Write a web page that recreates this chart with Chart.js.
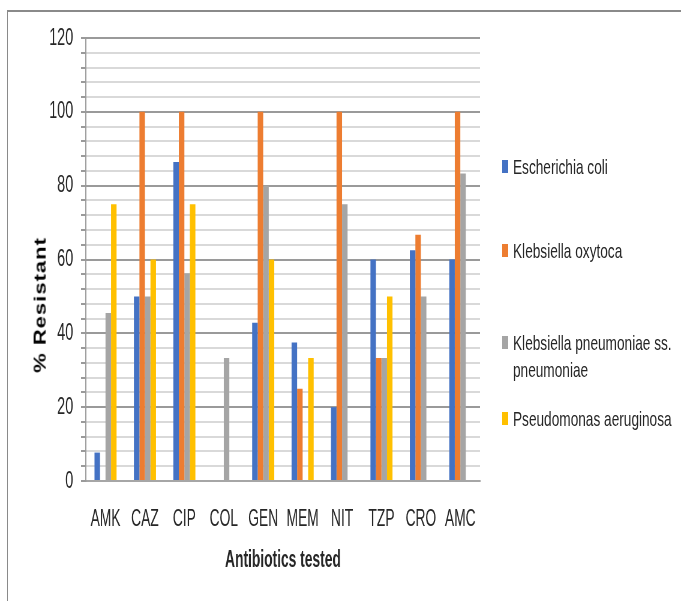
<!DOCTYPE html>
<html>
<head>
<meta charset="utf-8">
<script src="https://cdn.jsdelivr.net/npm/chart.js@4/dist/chart.umd.min.js"></script>
<style>
  html, body { margin: 0; padding: 0; background: #fff; overflow: hidden; width: 681px; height: 601px; }
  #wrap { position: relative; width: 681px; height: 601px; overflow: hidden; }
  #ftop { position: absolute; left: 7px; top: 10px; width: 674px; height: 2px; background: #8a8a8a; }
  #fleft { position: absolute; left: 7px; top: 10px; width: 1px; height: 591px; background: #8a8a8a; }
  #c { position: absolute; left: 0; top: 0; transform: scaleX(0.6); transform-origin: 0 0; }
  #ytitle { position: absolute; left: 41px; top: 305px; white-space: nowrap;
    font: bold 22px "Liberation Sans", Arial, sans-serif; letter-spacing: 1px; color: #000;
    transform: translate(-50%, -50%) rotate(-90deg) scale(1, 0.72); }
  #legend { position: absolute; left: 502px; top: 0; width: 179px; height: 601px; overflow: hidden; }
  .sw { position: absolute; left: 0; width: 6px; height: 13px; }
  .tx { position: absolute; left: 11px; white-space: nowrap; font: 21px "Liberation Sans", Arial, sans-serif; color: #262626;
        transform: scaleX(0.65); transform-origin: 0 50%; line-height: 26px; }
</style>
</head>
<body>
<div id="wrap">
  <div id="ftop"></div>
  <div id="fleft"></div>
  <canvas id="c" width="1135" height="601"></canvas>
  <div id="ytitle">% Resistant</div>
  <div id="legend"></div>
</div>
<script>
const categories = ['AMK','CAZ','CIP','COL','GEN','MEM','NIT','TZP','CRO','AMC'];
const seriesNames = ['Escherichia coli', 'Klebsiella oxytoca', 'Klebsiella pneumoniae ss. pneumoniae', 'Pseudomonas aeruginosa'];
const ecoli      = [7.7, 50, 86.4, 0, 42.9, 37.5, 20, 60, 62.5, 60];
const kOxytoca   = [0, 100, 100, 0, 100, 25, 100, 33.3, 66.7, 100];
const kPneumo    = [45.5, 50, 56.3, 33.3, 80, 0, 75, 33.3, 50, 83.3];
const pAerugin   = [75, 60, 75, 0, 60, 33.3, 0, 50, 0, 0];
const yTickValues = [0, 20, 40, 60, 80, 100, 120];
const colors = ['#4472C4', '#ED7D31', '#A5A5A5', '#FFC000'];

// The reference picture is horizontally condensed; the canvas is drawn wide and squeezed by SX.
const SX = 0.6;
const FONT = '"Liberation Sans", Arial, sans-serif';
const values = [ecoli, kOxytoca, kPneumo, pAerugin];
const datasets = values.map((d, i) => ({
  label: seriesNames[i],
  data: d,
  backgroundColor: colors[i],
  borderWidth: 0,
  categoryPercentage: 0.56,
  barPercentage: 1.0
}));

const chart = new Chart(document.getElementById('c'), {
  type: 'bar',
  data: { labels: categories, datasets },
  options: {
    responsive: false,
    animation: false,
    layout: { padding: { left: 0, right: Math.round(201 / SX), top: 38, bottom: 0 } },
    plugins: { legend: { display: false }, tooltip: { enabled: false } },
    scales: {
      x: {
        grid: { display: false, drawTicks: false },
        border: { display: true, color: '#a6a6a6', width: 2 },
        ticks: { color: '#262626', padding: 25, maxRotation: 0, minRotation: 0, autoSkip: false,
                 font: { family: FONT, size: 23 } },
        title: { display: true, text: 'Antibiotics tested', color: '#262626', padding: { top: 0, bottom: 27 },
                 font: { family: FONT, size: 23, weight: 'bold' } },
        afterFit: s => { s.height = 120; }
      },
      y: {
        min: 0, max: 120,
        grid: {
          color: ctx => (ctx.tick && yTickValues.includes(ctx.tick.value)) ? '#9a9a9a' : '#d9d9d9',
          lineWidth: 2,
          drawTicks: true, tickLength: 8, tickColor: '#9a9a9a'
        },
        border: { display: true, color: '#9a9a9a', width: 2 },
        ticks: {
          stepSize: 4, autoSkip: false, color: '#262626', padding: 13,
          font: { family: FONT, size: 24 },
          callback: v => yTickValues.includes(v) ? String(v) : ''
        },
        afterFit: s => { s.width = Math.round(86 / SX); }
      }
    }
  }
});

// HTML legend built from the chart's datasets
const legendY = [167, 251, 343, 419];
const leg = document.getElementById('legend');
chart.data.datasets.forEach((ds, i) => {
  const sw = document.createElement('div');
  sw.className = 'sw';
  sw.style.background = ds.backgroundColor;
  sw.style.top = (legendY[i] - 7) + 'px';
  leg.appendChild(sw);
  const lines = ds.label === 'Klebsiella pneumoniae ss. pneumoniae' ? ['Klebsiella pneumoniae ss.', 'pneumoniae'] : [ds.label];
  lines.forEach((ln, k) => {
    const t = document.createElement('div');
    t.className = 'tx';
    t.textContent = ln;
    t.style.top = (legendY[i] - 13 + k * 27) + 'px';
    leg.appendChild(t);
  });
});
</script>
</body>
</html>
